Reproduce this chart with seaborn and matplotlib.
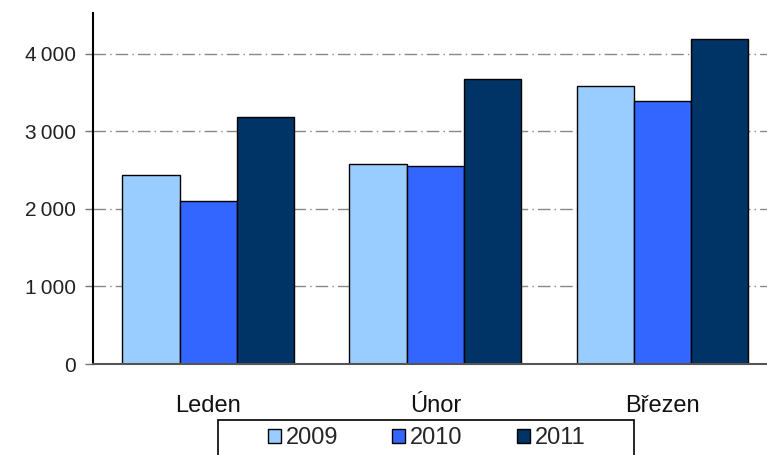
import pandas as pd
import matplotlib.pyplot as plt
import seaborn as sns
from matplotlib.ticker import FuncFormatter
from matplotlib.patches import Rectangle

sns.set_theme(style="white")
plt.rcParams['font.family'] = ['Liberation Sans', 'DejaVu Sans']

mesice = ['Leden', 'Únor', 'Březen']
roky = ['2009', '2010', '2011']
hodnoty_2009 = [2435, 2575, 3580]
hodnoty_2010 = [2100, 2550, 3395]
hodnoty_2011 = [3180, 3675, 4190]
barvy = ['#99CCFF', '#3366FF', '#003366']

df = pd.DataFrame({
    'mesic': mesice * 3,
    'rok': [r for r in roky for _ in mesice],
    'hodnota': hodnoty_2009 + hodnoty_2010 + hodnoty_2011,
})

fig = plt.figure(figsize=(7.67, 4.55), dpi=100)
ax = fig.add_axes([0.121, 0.2, 0.879, 0.771])

sns.barplot(data=df, x='mesic', y='hodnota', hue='rok', order=mesice,
            hue_order=roky, palette=barvy, width=0.756, saturation=1,
            edgecolor='black', linewidth=1, ax=ax)

ax.set_axisbelow(True)
ax.yaxis.grid(True, color='#888888', linewidth=1, linestyle=(0, (9, 3, 1, 3)))
ax.set_xlim(-0.508, 2.46)
ax.set_ylim(0, 4520)
ax.set_yticks([0, 1000, 2000, 3000, 4000])
ax.yaxis.set_major_formatter(FuncFormatter(lambda v, p: f"{int(v):,}".replace(',', '\u2009')))
ax.set_xlabel('')
ax.set_ylabel('')

for s in ['top', 'right']:
    ax.spines[s].set_visible(False)
ax.spines['left'].set_color('black')
ax.spines['left'].set_linewidth(1.5)
ax.spines['bottom'].set_color('#555555')
ax.spines['bottom'].set_linewidth(1.5)

ax.tick_params(axis='y', left=True, length=6, width=1, color='#777777',
               labelsize=15, labelcolor='#222222', pad=6)
ax.tick_params(axis='x', bottom=False, labelsize=17, labelcolor='#111111', pad=16)

# legenda bez ramecku, ramecek zvlast (v originale je oriznuty dole)
handles, labels = ax.get_legend_handles_labels()
ax.legend_.remove()
leg = fig.legend(handles, labels, ncol=3, loc='center',
                 bbox_to_anchor=(0.556, 0.037),
                 fontsize=17, frameon=False,
                 handlelength=0.55, handleheight=0.55, handletextpad=0.2,
                 columnspacing=2.3, borderpad=0, borderaxespad=0)
ramecek = Rectangle((218 / 767, -0.05), 416 / 767, 0.05 + 35 / 455,
                    transform=fig.transFigure, fill=False,
                    edgecolor='black', linewidth=1.2)
fig.add_artist(ramecek)

fig.savefig('out.png', dpi=100)
